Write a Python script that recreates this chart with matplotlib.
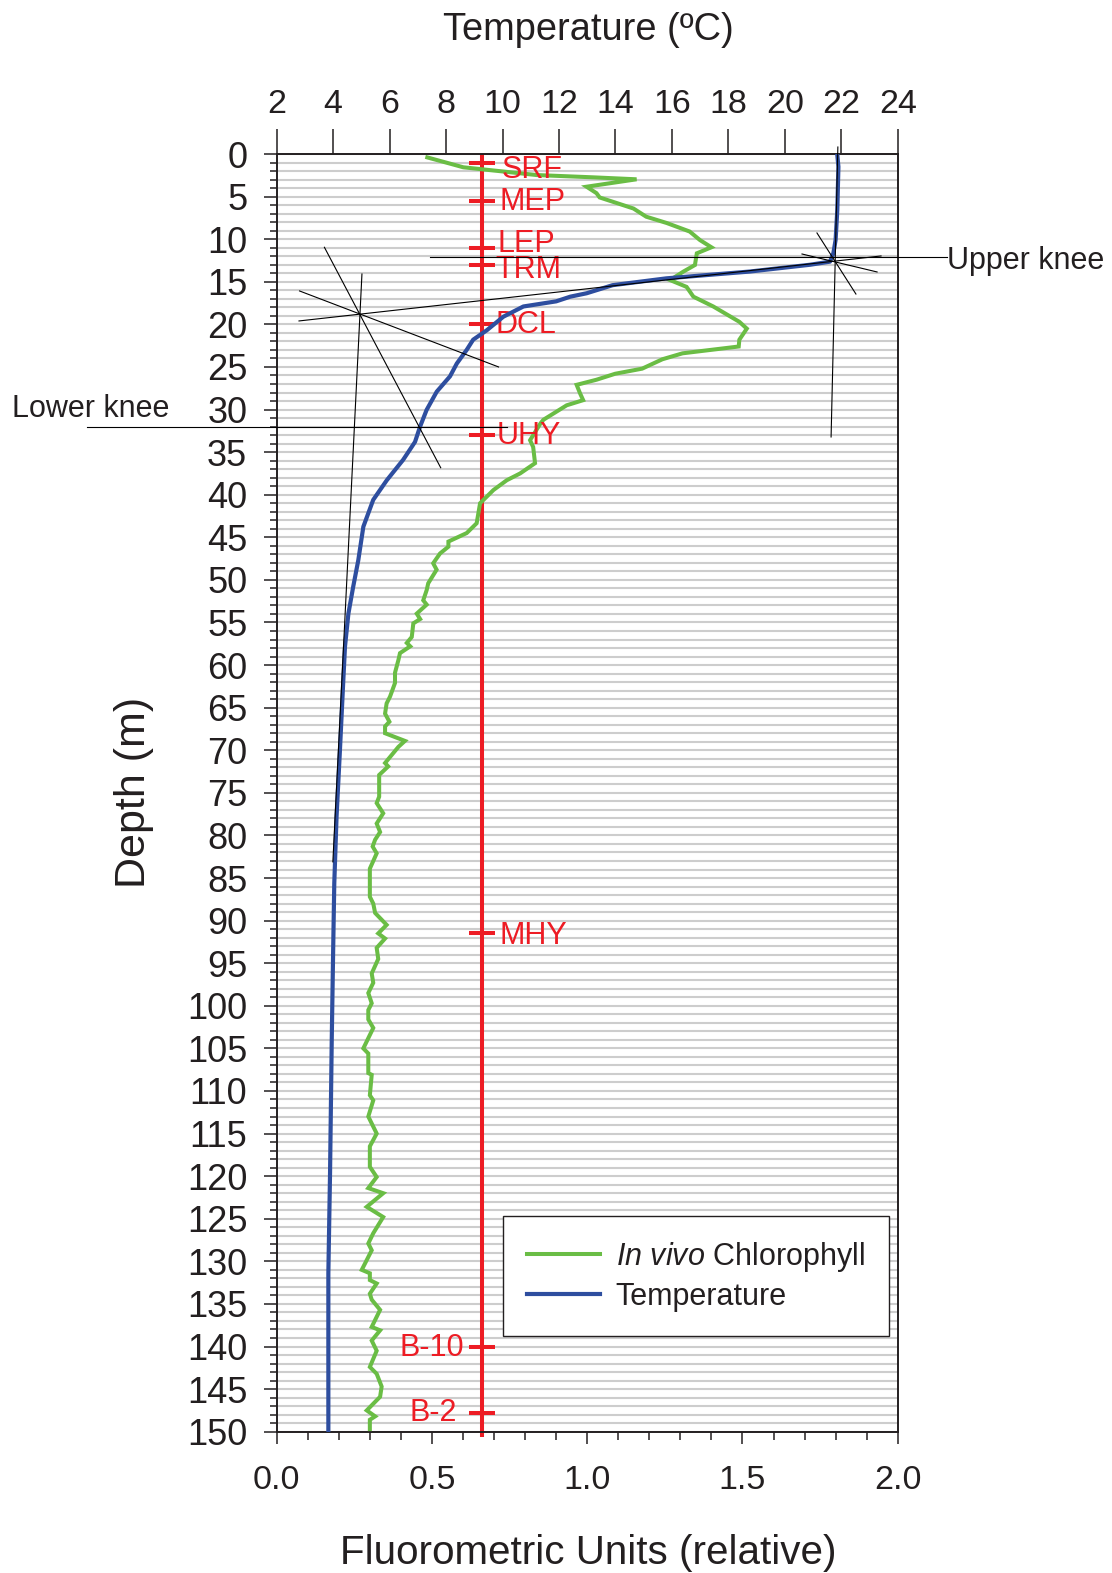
import matplotlib
matplotlib.use("Agg")
import matplotlib.pyplot as plt
from matplotlib.ticker import MultipleLocator, FormatStrFormatter

plt.rcParams['font.family'] = ['Liberation Sans', 'DejaVu Sans']
plt.rcParams['mathtext.fontset'] = 'custom'
plt.rcParams['mathtext.rm'] = 'Liberation Sans'
plt.rcParams['mathtext.it'] = 'Liberation Sans:italic'

# ---------------- data ----------------
temp_depth = [0.1, 1.5, 6.6, 10.1, 11.66, 12.64, 13.0, 13.8, 14.6, 15.4, 16.35, 16.75, 17.3,
              17.9, 19.1, 20.7, 21.8, 23.0, 24.6, 26.1, 27.9, 30.05, 32.0, 33.8, 35.9, 38.3,
              40.6, 43.75, 47.7, 50.8, 53.96, 57.8, 61.75, 70.0, 77.8, 85.6, 93.5, 104.0,
              119.6, 131.4, 150.0]
temp_vals = [21.86, 21.9, 21.86, 21.8, 21.72, 21.6, 20.9, 18.76, 15.8, 13.9, 12.98, 12.4, 11.9,
             10.74, 10.03, 9.44, 8.96, 8.73, 8.38, 8.14, 7.67, 7.31, 7.08, 6.9, 6.48, 5.9,
             5.42, 5.07, 4.89, 4.71, 4.54, 4.42, 4.36, 4.24, 4.12, 4.04, 4.0, 3.95,
             3.89, 3.83, 3.83]

chl_depth = [0.4, 1.56, 2.47, 2.74, 2.97, 3.84, 4.6, 5.1, 6.4, 7.36, 8.1, 9.1, 10.1, 10.95,
             11.66, 13.03, 13.8, 14.8, 15.6, 16.75, 17.9, 19.7, 20.5, 21.8, 22.6, 23.4, 24.1,
             25.2, 25.8, 26.5, 27.1, 28.1, 28.9, 29.5, 31.2, 31.6, 33.6, 34.4, 36.3, 37.5,
             38.3, 39.45, 41.0, 43.35, 44.5, 45.5, 46.1, 46.9, 48.05, 48.8, 50.4, 51.2, 52.4,
             52.9, 53.96, 54.6, 55.1, 56.7, 57.4, 57.8, 58.6, 59.4, 60.9, 62.1, 63.7, 64.5,
             65.7, 66.65, 67.2, 68.0, 68.9, 69.6, 71.5, 71.9, 72.9, 75.45, 76.2, 77.4, 78.6,
             79.6, 80.5, 81.3, 82.1, 83.9, 87.2, 88.0, 89.1, 90.5, 91.5, 92.1, 93.2, 94.5,
             96.2, 97.3, 98.5, 99.7, 100.5, 101.6, 102.6, 105.0, 105.6, 107.9, 108.1, 110.5,
             111.1, 113.0, 115.0, 116.5, 118.9, 120.1, 121.4, 122.0, 123.6, 124.8, 126.7,
             127.9, 128.7, 131.0, 131.4, 132.2, 132.6, 133.8, 134.5, 135.7, 137.7, 138.1,
             139.3, 140.5, 142.4, 143.2, 144.7, 145.9, 147.5, 148.2, 148.6, 150.0]
chl_vals = [0.485, 0.601, 0.837, 1.02, 1.159, 0.998, 1.03, 1.04, 1.149, 1.19, 1.256, 1.33, 1.363, 1.40,
            1.353, 1.347, 1.31, 1.267, 1.32, 1.342, 1.406, 1.49, 1.514, 1.49, 1.488, 1.307, 1.242,
            1.177, 1.09, 1.03, 0.966, 0.977, 0.987, 0.934, 0.859, 0.85, 0.816, 0.826, 0.832, 0.784,
            0.741, 0.698, 0.655, 0.644, 0.612, 0.553, 0.553, 0.526, 0.504, 0.515, 0.488, 0.483, 0.472,
            0.483, 0.451, 0.462, 0.44, 0.435, 0.419, 0.43, 0.397, 0.392, 0.381, 0.381, 0.365, 0.354,
            0.349, 0.363, 0.349, 0.349, 0.413, 0.392, 0.349, 0.359, 0.33, 0.33, 0.322, 0.343, 0.322,
            0.333, 0.317, 0.309, 0.322, 0.3, 0.3, 0.311, 0.317, 0.354, 0.327, 0.349, 0.322, 0.327,
            0.306, 0.311, 0.295, 0.306, 0.295, 0.295, 0.311, 0.279, 0.295, 0.295, 0.306, 0.3,
            0.311, 0.295, 0.322, 0.3, 0.3, 0.322, 0.295, 0.343, 0.29, 0.343, 0.311,
            0.295, 0.306, 0.274, 0.3, 0.3, 0.322, 0.3, 0.306, 0.333, 0.306, 0.333,
            0.306, 0.322, 0.3, 0.322, 0.338, 0.333, 0.29, 0.317, 0.3, 0.3]

# sampling / layer markers on the red line
marker_fluor = 0.66
marker_names = ['SRF', 'MEP', 'LEP', 'TRM', 'DCL', 'UHY', 'MHY', 'B-10', 'B-2']
marker_depths = [1.0, 5.5, 11.0, 13.0, 20.0, 33.0, 91.5, 140.0, 147.8]

# knee construction lines: (temperature pairs, depth pairs)
knee_line_temp = [(21.88, 21.64), (2.79, 23.41), (21.14, 22.52), (20.61, 23.27),
                  (5.02, 3.99), (3.69, 7.81), (2.81, 9.86)]
knee_line_depth = [(-0.82, 33.22), (19.6, 11.97), (9.27, 16.44), (11.74, 13.85),
                   (14.09, 83.1), (10.95, 36.83), (16.08, 25.0)]
upper_knee_depth = 12.06
upper_knee_temp_span = (7.43, 25.74)
lower_knee_depth = 32.0
lower_knee_temp_span = (-4.72, 10.16)

depth_ticks = list(range(0, 151, 5))
temp_ticks = list(range(2, 25, 2))
fluor_ticks = [0.0, 0.5, 1.0, 1.5, 2.0]

# ---------------- styles ----------------
DARK = '#231f20'
GREEN = '#6abd45'
BLUE = '#2e4e9f'
RED = '#ed1c24'
GRID = '#cdcdcd'

W, H = 1112, 1573
fig = plt.figure(figsize=(W / 100, H / 100), dpi=100)
L, R, T, B = 276.7, 897.7, 154.0, 1431.7
ax = fig.add_axes([L / W, 1 - B / H, (R - L) / W, (B - T) / H])
ax.set_xlim(0, 2.0)
ax.set_ylim(150, 0)
ax.set_facecolor('white')

# grid every metre
ax.yaxis.set_minor_locator(MultipleLocator(1))
ax.set_yticks(depth_ticks)
ax.grid(axis='y', which='both', color=GRID, lw=1.5, zorder=0)
ax.set_axisbelow(True)

ax.set_xticks(fluor_ticks)
ax.xaxis.set_minor_locator(MultipleLocator(0.1))
ax.xaxis.set_major_formatter(FormatStrFormatter('%.1f'))

ax.tick_params(axis='y', which='major', direction='out', length=9.4, width=1.1,
               labelsize=26, pad=11.8, colors=DARK)
ax.tick_params(axis='y', which='minor', direction='out', length=4.8, width=1.1, colors=DARK)
ax.tick_params(axis='x', which='major', direction='out', length=8.9, width=1.1,
               labelsize=24.5, pad=15, colors=DARK)
ax.tick_params(axis='x', which='minor', direction='out', length=6.0, width=1.1, colors=DARK)
for s in ax.spines.values():
    s.set_linewidth(1.2)
    s.set_color(DARK)

# red vertical line and markers
ax.plot([marker_fluor, marker_fluor], [0, 150.6], color=RED, lw=2.9, zorder=2,
        clip_on=False, solid_capstyle='butt')
for name, d in zip(marker_names, marker_depths):
    ax.plot([marker_fluor - 0.042, marker_fluor + 0.042], [d, d], color=RED, lw=2.9,
            zorder=2, solid_capstyle='butt')

label_dx = {'SRF': 20, 'MEP': 17.5, 'LEP': 15.5, 'TRM': 13.5, 'DCL': 13.5, 'UHY': 15,
            'MHY': 18, 'B-10': -18, 'B-2': -25}
label_dy = {'SRF': 0.85, 'MEP': 0.15, 'LEP': -0.4, 'TRM': 0.65, 'DCL': 0.05, 'UHY': 0.15,
            'MHY': 0.35, 'B-10': 0.2, 'B-2': 0.0}
for name, d in zip(marker_names, marker_depths):
    dx = label_dx[name]
    ax.annotate(name, xy=(marker_fluor, d + label_dy[name]), xytext=(dx * 0.72, 0),
                textcoords='offset points', color=RED, fontsize=22,
                ha='left' if dx > 0 else 'right', va='center', zorder=5)

# chlorophyll
l_chl, = ax.plot(chl_vals, chl_depth, color=GREEN, lw=2.9, zorder=3,
                 solid_joinstyle='miter', label=r'$\it{In\ vivo}$ Chlorophyll')

# temperature axis
ax2 = ax.twiny()
ax2.set_xlim(2, 24)
ax2.set_ylim(150, 0)
ax2.set_xticks(temp_ticks)
ax2.tick_params(axis='x', which='major', direction='out', length=17.8, width=1.1,
                labelsize=24.5, pad=6.5, colors=DARK)
for s in ax2.spines.values():
    s.set_linewidth(1.2)
    s.set_color(DARK)
l_t, = ax2.plot(temp_vals, temp_depth, color=BLUE, lw=3.0, zorder=3, label='Temperature')

for xs, ys in zip(knee_line_temp, knee_line_depth):
    ax2.plot(xs, ys, color='black', lw=0.8, zorder=4, clip_on=False)
ax2.plot(upper_knee_temp_span, [upper_knee_depth] * 2, color='black', lw=0.8, zorder=4, clip_on=False)
ax2.plot(lower_knee_temp_span, [lower_knee_depth] * 2, color='black', lw=0.8, zorder=4, clip_on=False)

fig.text(947 / W, 1 - 269 / H, 'Upper knee', fontsize=22, color=DARK, ha='left', va='baseline')
fig.text(11.7 / W, 1 - 417 / H, 'Lower knee', fontsize=22, color=DARK, ha='left', va='baseline')

# legend
leg = ax2.legend(handles=[l_chl, l_t], loc='upper left',
                 bbox_to_anchor=((502.7 - L) / (R - L), (B - 1216) / (B - T)),
                 bbox_transform=ax2.transAxes, fontsize=22, frameon=True, fancybox=False,
                 edgecolor=DARK, framealpha=1, borderaxespad=0, borderpad=0.78,
                 labelspacing=0.26, handlelength=2.42, handletextpad=0.5)
leg.get_frame().set_linewidth(1.0)
for txt in leg.get_texts():
    txt.set_color(DARK)

# axis titles
ax.set_xlabel('Fluorometric Units (relative)', fontsize=29.1, color=DARK, va='center')
ax.xaxis.set_label_coords((588 - L) / (R - L), (B - 1553.5) / (B - T))
ax2.set_xlabel('Temperature (ºC)', fontsize=27.4, color=DARK, va='center')
ax2.xaxis.set_label_coords((588.6 - L) / (R - L), (B - 30.5) / (B - T))
ax.set_ylabel('Depth (m)', fontsize=31, color=DARK, va='center')
ax.yaxis.set_label_coords((134 - L) / (R - L), (B - 792.8) / (B - T))

fig.savefig('out.png', dpi=100)
